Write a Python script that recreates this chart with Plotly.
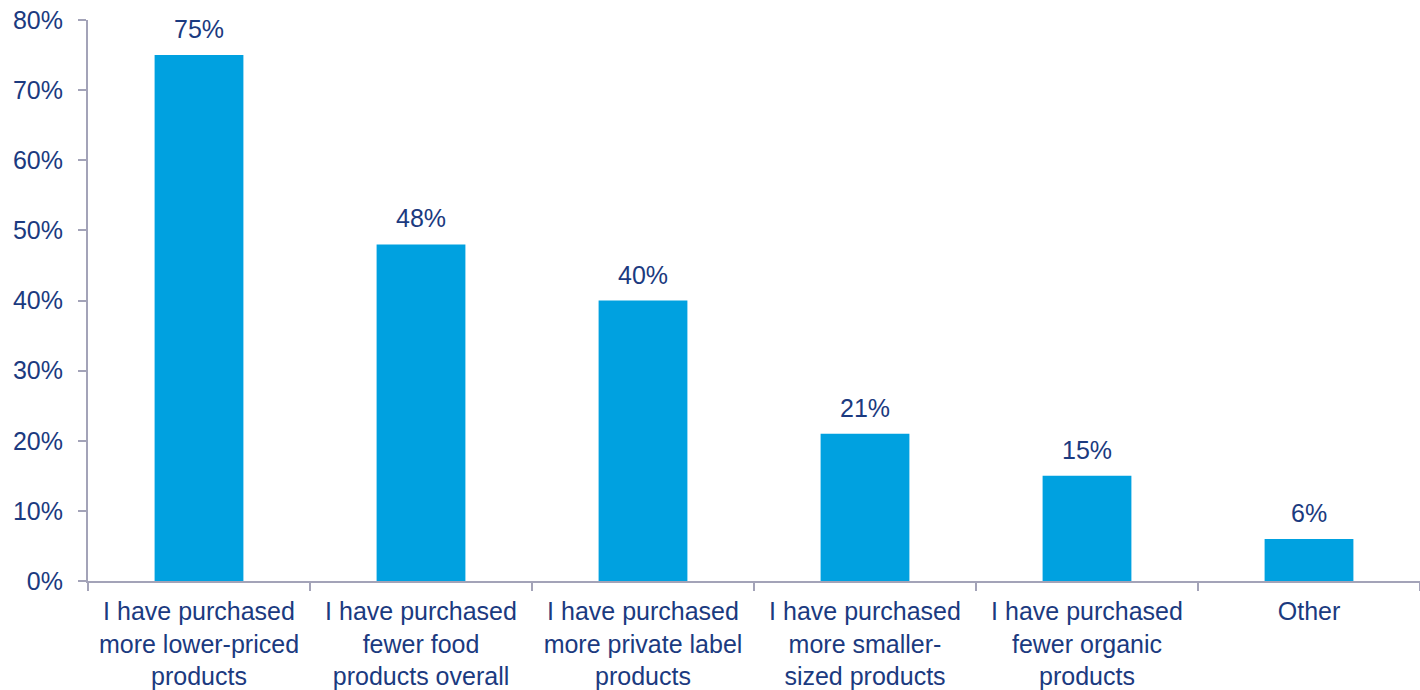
import plotly.graph_objects as go

categories = [
    "I have purchased<br>more lower-priced<br>products",
    "I have purchased<br>fewer food<br>products overall",
    "I have purchased<br>more private label<br>products",
    "I have purchased<br>more smaller-<br>sized products",
    "I have purchased<br>fewer organic<br>products",
    "Other",
]
shares = [75, 48, 40, 21, 15, 6]
y_ticks = [0, 10, 20, 30, 40, 50, 60, 70, 80]
y_tick_labels = [f"{v}%" for v in y_ticks]

BAR = "#00A1E0"
TEXT = "#1B3A80"
AXIS = "#A3A3B8"
FONT = "Liberation Sans, Arial, sans-serif"
SIZE = 25

fig = go.Figure(
    go.Bar(
        x=categories,
        y=shares,
        marker=dict(color=BAR, line=dict(width=0)),
        hoverinfo="skip",
    )
)

for cat, val in zip(categories, shares):
    fig.add_annotation(
        x=cat, y=val, text=f"{val}%", showarrow=False,
        yanchor="bottom", yshift=10,
        font=dict(family=FONT, size=SIZE, color=TEXT),
    )

fig.update_layout(
    width=1420, height=690,
    margin=dict(l=88, r=0, t=20, b=109),
    paper_bgcolor="white", plot_bgcolor="white",
    bargap=0.6,
    showlegend=False,
    font=dict(family=FONT, size=SIZE, color=TEXT),
)
fig.update_xaxes(
    type="category",
    tickson="boundaries",
    ticks="outside", ticklen=8, tickwidth=2, tickcolor=AXIS,
    showline=True, linecolor=AXIS, linewidth=2,
    showgrid=False,
    ticklabelstandoff=7,
    tickfont=dict(family=FONT, size=SIZE, color=TEXT),
)
fig.update_yaxes(
    range=[0, 80],
    tickvals=y_ticks, ticktext=y_tick_labels,
    ticks="outside", ticklen=8, tickwidth=2, tickcolor=AXIS,
    showline=True, linecolor=AXIS, linewidth=2,
    showgrid=False, zeroline=False,
    ticklabelstandoff=10,
    tickfont=dict(family=FONT, size=SIZE, color=TEXT),
)

fig.write_html("out.html")
